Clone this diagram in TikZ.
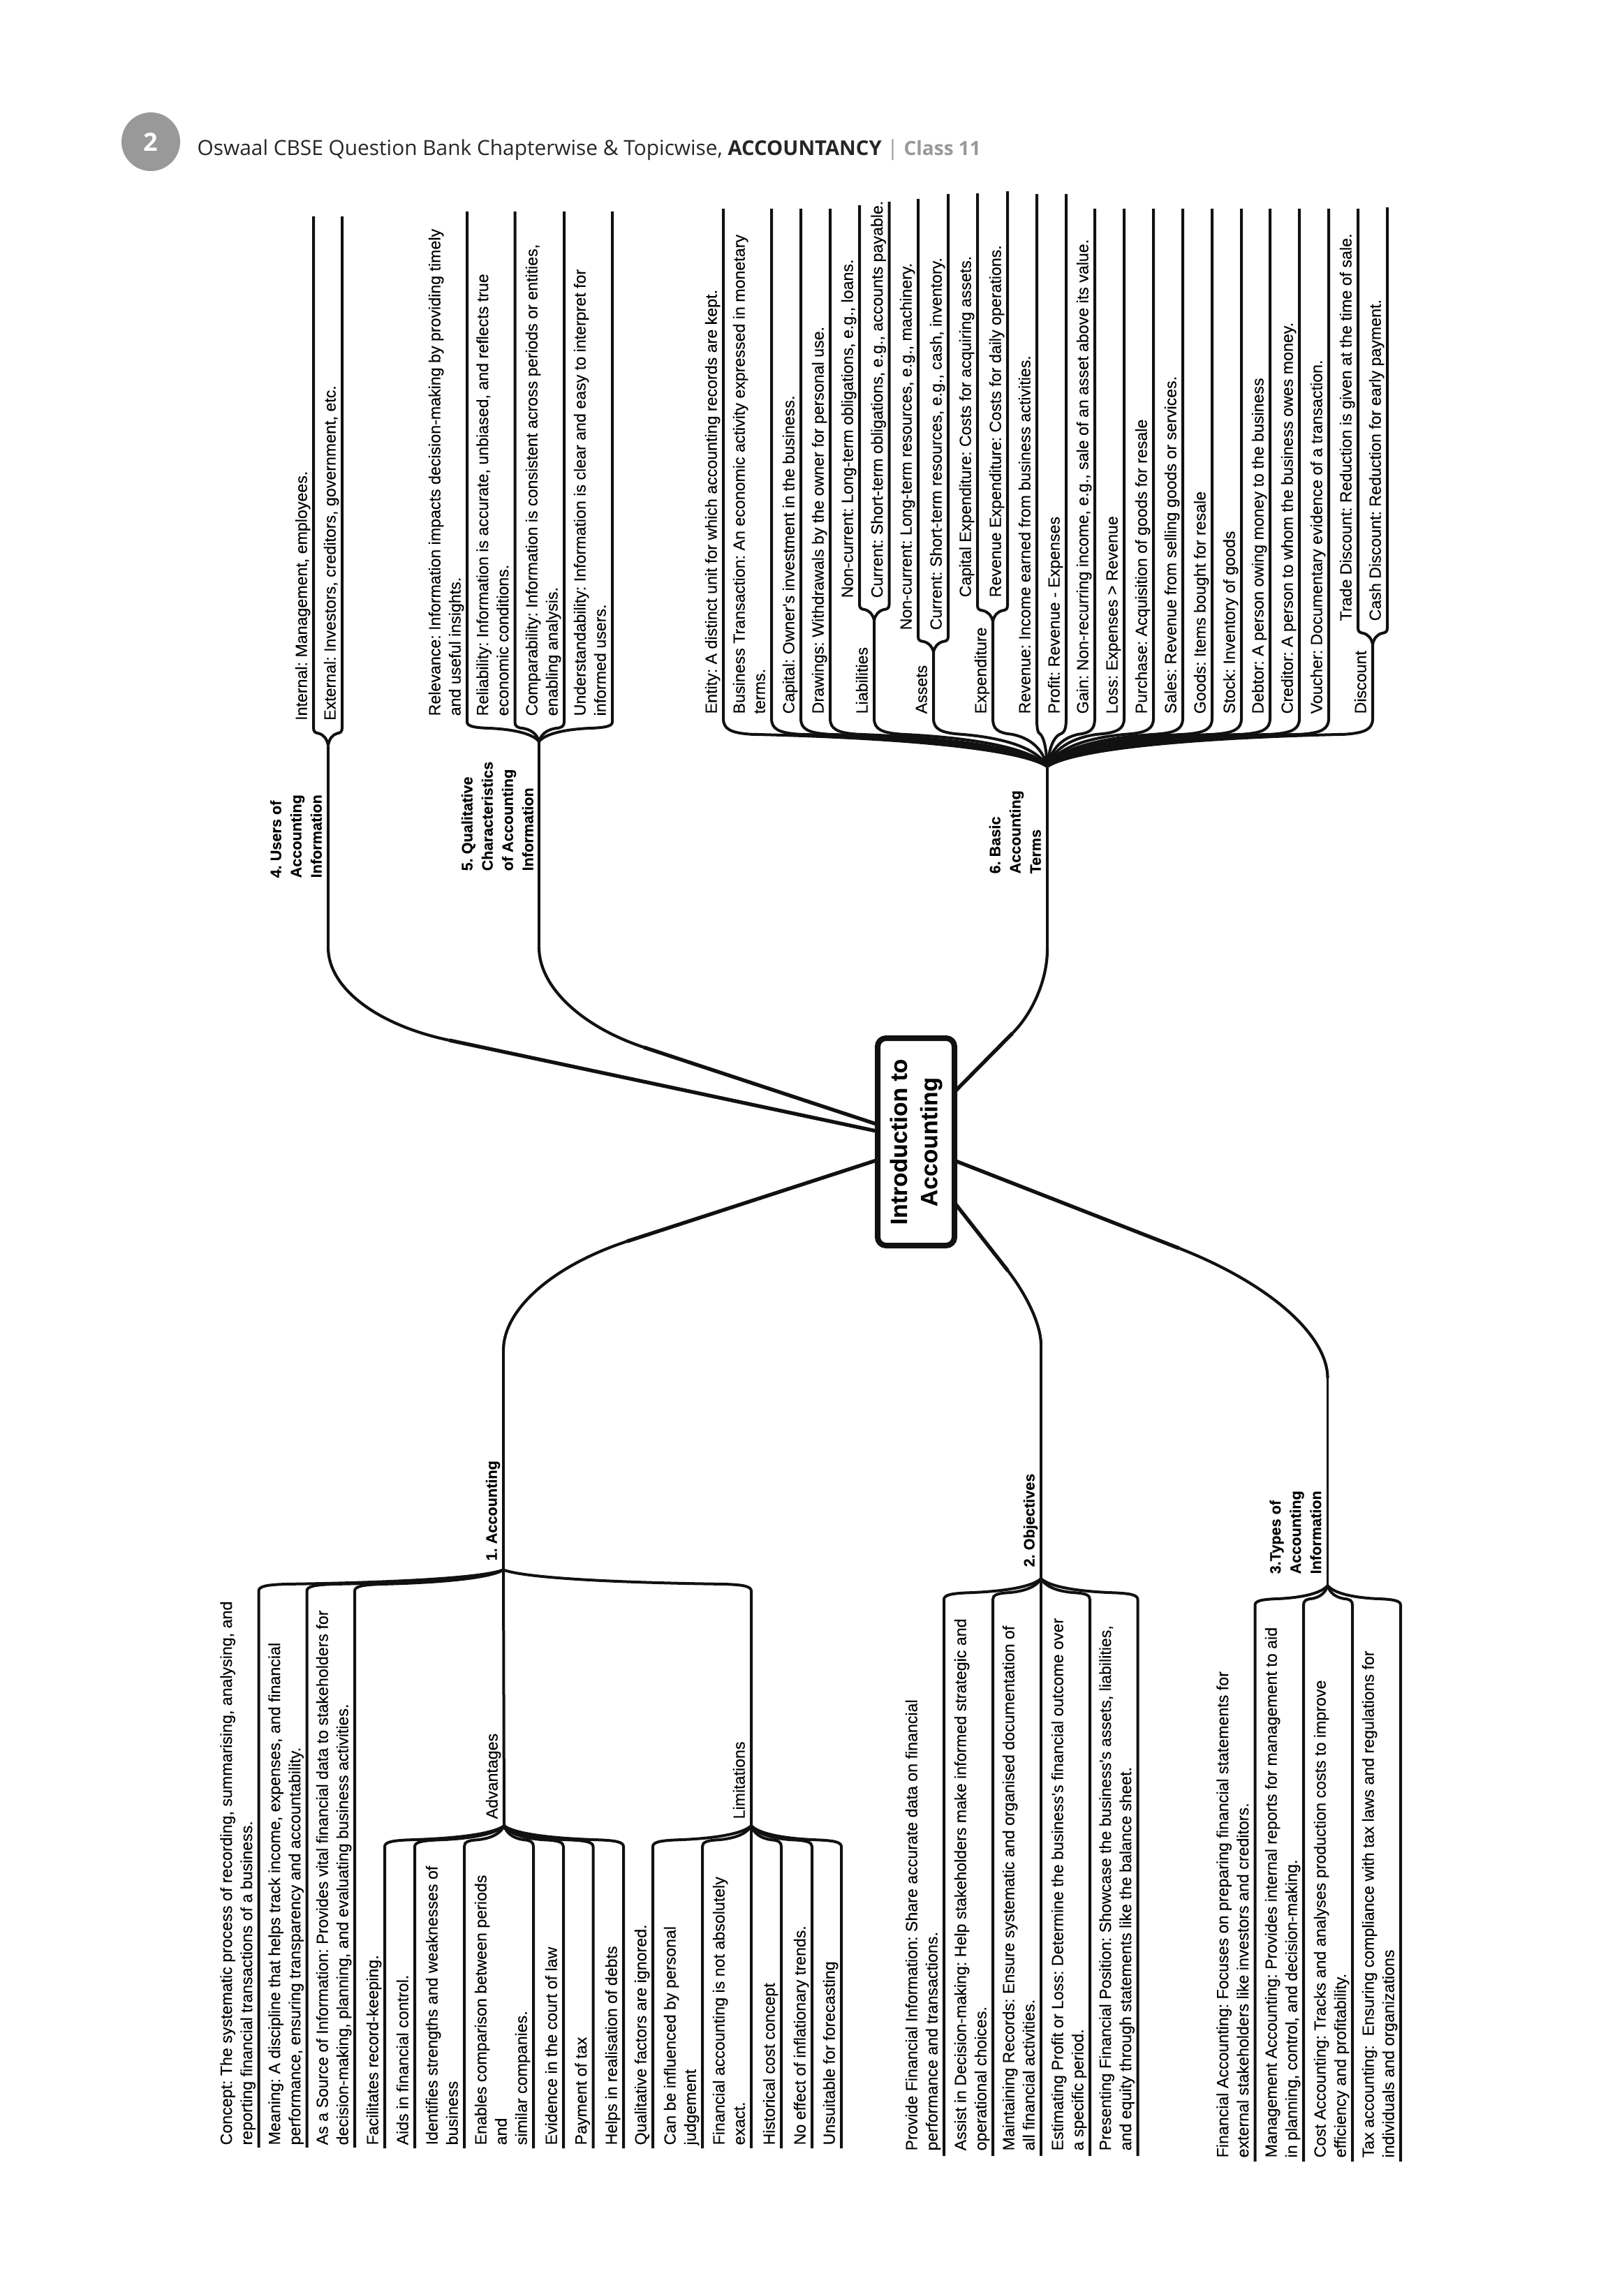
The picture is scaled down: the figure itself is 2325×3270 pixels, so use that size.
\documentclass[tikz,border=0pt]{standalone}
\usepackage{fontspec}
\setmainfont{Liberation Sans}
\newfontfamily\hdrfont{Open Sans}
\newfontfamily\leaffont{Liberation Sans}[FakeBold=0.12]
\newfontfamily\labfont{Liberation Sans Bold}[FakeBold=0.15]
\AtBeginDocument{\frenchspacing}
\definecolor{ink}{HTML}{111111}
\definecolor{pagegray}{HTML}{999999}
\tikzset{
  leaftxt/.style={rotate=90,anchor=south west,inner sep=0pt,align=left,font=\leaffont\fontsize{6.96pt}{8.7pt}\selectfont},
  headtxt/.style={rotate=90,anchor=south west,inner sep=0pt,align=left,font=\labfont\fontsize{6.5pt}{8.7pt}\selectfont},
  lnk/.style={line width=1.2pt,draw=ink},
  stemthin/.style={line width=1.05pt,draw=ink},
  stemmid/.style={line width=1.25pt,draw=ink},
  stemthick/.style={line width=1.6pt,draw=ink},
}
\newcommand\sethub[3]{\coordinate (#1) at (#2,#3);\def\myhn{#1}\def\myhx{#2}\def\myhy{#3}}
\newcommand\bendfrom[3]{%
  \pgfmathsetmacro\mydx{\myhx-#2}%
  \pgfmathsetmacro\mydy{\myhy-#3}%
  \pgfmathsetmacro\myrr{max(-40,min(40,0.35*\mydx))}%
  \pgfmathsetmacro\mycx{#2+\myrr}%
  \pgfmathsetmacro\mycy{#3+0.33*\mydy}%
  \pgfmathsetmacro\myax{#2+0.25*\myrr}%
  \pgfmathsetmacro\myay{#3+0.30*\mydy}%
  \pgfmathsetmacro\myby{#3+0.22*\mydy}%
  \pgfmathsetmacro\myqx{\mycx+0.55*(\myhx-\mycx)}%
  \pgfmathsetmacro\myqy{\mycy+0.08*\mydy}%
  \pgfmathsetmacro\mysx{\myhx-0.08*\mydx}%
  \pgfmathsetmacro\mysy{\myhy-0.35*\mydy}%
  \draw[lnk] (#1) -- (#2,#3) .. controls (#2,\myby) and (\myax,\myay) .. (\mycx,\mycy) .. controls (\myqx,\myqy) and (\mysx,\mysy) .. (\myhn);
}
% name, x, far y, corner y, text start y, text
\newcommand\leaf[6]{%
  \coordinate (#1far) at (#2,#3);
  \bendfrom{#1far}{#2}{#4}
  \node[leaftxt] (#1) at (#2,#5) {#6\strut};
}
% main connector: hub, stem end, ctrl1, ctrl2, straight start, box point
\newcommand\mainconn[6]{%
  \draw[stemthin] (#1) -- (#2);
  \draw[stemmid] (#2) .. controls (#3) and (#4) .. (#5);
  \draw[stemthick] (#5) -- (#6);
}
\begin{document}
\begin{tikzpicture}[x=0.3pt,y=-0.3pt]
\useasboundingbox (0,0) rectangle (2325,3270);
\fill[white] (0,0) rectangle (2325,3270);
% header
\node[circle,fill=pagegray,inner sep=0pt,minimum size=25.2pt,text=white,font=\hdrfont\fontsize{10.8pt}{12pt}\selectfont\bfseries] (pg) at (216,203) {2};
\node[anchor=base west,inner sep=0pt,font=\hdrfont\fontsize{8.95pt}{10pt}\selectfont,text=black!85] (hd) at (282,222.5) {Oswaal CBSE Question Bank Chapterwise \& Topicwise, {\fontsize{8.75pt}{10pt}\selectfont\textbf{ACCOUNTANCY}} {\color{pagegray}| {\fontsize{8.4pt}{10pt}\selectfont\textbf{Class 11}}}};

% connection points on the central box
\coordinate (bx4) at (1255,1620);
\coordinate (bx5) at (1255,1610);
\coordinate (bx1) at (1255,1662);
\coordinate (bx6) at (1369,1562);
\coordinate (bx3) at (1369,1663);
\coordinate (bx2) at (1369,1725);

% ---------- 4. Users
\sethub{h4}{470}{1067.5}
\mainconn{h4}{470,1357}{470,1415}{539.4,1468}{643.5,1490}{bx4}
\node[headtxt] (t4) at (470,1258) {4. Users of\\Accounting\\Information\strut};
\leaf{u1}{449}{310}{1042}{1032.5}{Internal: Management, employees.}
\leaf{u2}{490}{310}{1042}{1032.5}{External: Investors, creditors, government, etc.}

% ---------- 5. Qualitative
\sethub{h5}{772}{1062}
\mainconn{h5}{772,1357}{772,1413}{832,1470}{922,1500}{bx5}
\node[headtxt] (t5) at (773,1248) {5. Qualitative\\Characteristics\\of Accounting\\Information\strut};
\leaf{q1}{669}{303}{1034}{1026}{Relevance: Information impacts decision-making by providing timely\\and useful insights.}
\leaf{q2}{737.5}{303}{1034}{1026}{Reliability: Information is accurate, unbiased, and reflects true\\economic conditions.}
\leaf{q3}{808}{303}{1034}{1026}{Comparability: Information is consistent across periods or entities,\\enabling analysis.}
\leaf{q4}{877}{303}{1034}{1026}{Understandability: Information is clear and easy to interpret for\\informed users.}

% ---------- 6. Basic terms
\sethub{h6}{1500}{1098}
\mainconn{h6}{1500,1360}{1500,1402}{1480,1450}{1450,1480}{bx6}
\node[headtxt] (t6) at (1500,1252) {6. Basic\\Accounting\\Terms\strut};
\leaf{b1}{1036}{299}{1029}{1023}{Entity: A distinct unit for which accounting records are kept.}
\leaf{b2}{1105}{299}{1029}{1023}{Business Transaction: An economic activity expressed in monetary\\terms.}
\leaf{b3}{1147}{299}{1029}{1023}{Capital: Owner's investment in the business.}
\leaf{b4}{1189}{299}{1029}{1023}{Drawings: Withdrawals by the owner for personal use.}
\coordinate (hL) at (1252,888.5);
\bendfrom{hL}{1252}{1029}
\node[leaftxt] (lL) at (1252,1023) {Liabilities\strut};
\coordinate (hA) at (1337,934);
\bendfrom{hA}{1337}{1029}
\node[leaftxt] (lA) at (1337,1023) {Assets\strut};
\coordinate (hE) at (1422,890);
\bendfrom{hE}{1422}{1029}
\node[leaftxt] (lE) at (1422,1023) {Expenditure\strut};
\coordinate (hD) at (1966,923);
\bendfrom{hD}{1966}{1029}
\node[leaftxt] (lD) at (1966,1023) {Discount\strut};
\leaf{b5}{1485}{278}{1029}{1023}{Revenue: Income earned from business activities.}
\leaf{b6}{1527}{278}{1029}{1023}{Profit: Revenue - Expenses}
\leaf{b7}{1568}{299}{1029}{1023}{Gain: Non-recurring income, e.g., sale of an asset above its value.}
\leaf{b8}{1610}{299}{1029}{1023}{Loss: Expenses > Revenue}
\leaf{b9}{1652}{299}{1029}{1023}{Purchase: Acquisition of goods for resale}
\leaf{b10}{1694}{299}{1029}{1023}{Sales: Revenue from selling goods or services.}
\leaf{b11}{1736}{299}{1029}{1023}{Goods: Items bought for resale}
\leaf{b12}{1778}{299}{1029}{1023}{Stock: Inventory of goods}
\leaf{b13}{1819}{299}{1029}{1023}{Debtor: A person owing money to the business}
\leaf{b14}{1861}{299}{1029}{1023}{Creditor: A person to whom the business owes money.}
\leaf{b15}{1903}{299}{1029}{1023}{Voucher: Documentary evidence of a transaction.}
\sethub{hL}{1252}{888.5}
\leaf{l1}{1231}{294}{865.5}{857}{Non-current: Long-term obligations, e.g., loans.}
\leaf{l2}{1273.5}{289}{865.5}{857}{Current: Short-term obligations, e.g., accounts payable.}
\sethub{hA}{1337}{934}
\leaf{a1}{1315}{285}{911.5}{903}{Non-current: Long-term resources, e.g., machinery.}
\leaf{a2}{1358}{278}{911.5}{903}{Current: Short-term resources, e.g., cash, inventory.}
\sethub{hE}{1422}{890}
\leaf{e1}{1400}{277}{867}{856}{Capital Expenditure: Costs for acquiring assets.}
\leaf{e2}{1443}{274}{867}{856}{Revenue Expenditure: Costs for daily operations.}
\sethub{hD}{1966}{923}
\leaf{d1}{1945}{299}{899}{890}{Trade Discount: Reduction is given at the time of sale.}
\leaf{d2}{1987}{297}{899}{890}{Cash Discount: Reduction for early payment.}

% ---------- 1. Accounting
\sethub{h1}{721}{2248.5}
\mainconn{h1}{721,1934}{721,1875}{792,1813}{898,1778}{bx1}
\node[headtxt] (t1) at (721,2236) {1. Accounting\strut};
\coordinate (hAdv) at (722,2615);
\coordinate (hLim) at (1076,2615);
\draw[lnk] (h1) -- (hAdv);
\bendfrom{hLim}{1076}{2279}
\node[leaftxt] (lAdv) at (722,2606) {Advantages\strut};
\node[leaftxt] (lLim) at (1076,2606) {Limitations\strut};
\leaf{c1}{370.5}{3076}{2279}{3073}{Concept: The systematic process of recording, summarising, analysing, and\\reporting financial transactions of a business.}
\leaf{c2}{439.5}{3076}{2279}{3073}{Meaning: A discipline that helps track income, expenses, and financial\\performance, ensuring transparency and accountability.}
\leaf{c3}{508}{3076}{2279}{3073}{As a Source of Information: Provides vital financial data to stakeholders for\\decision-making, planning, and evaluating business activities.}
\sethub{hAdv}{722}{2615}
\leaf{v1}{551}{3077}{2645}{3073}{Facilitates record-keeping.}
\leaf{v2}{594}{3077}{2645}{3073}{Aids in financial control.}
\leaf{v3}{665}{3077}{2645}{3073}{Identifies strengths and weaknesses of\\business}
\leaf{v4}{764}{3077}{2645}{3073}{Enables comparison between periods\\and\\similar companies.}
\leaf{v5}{807}{3077}{2645}{3073}{Evidence in the court of law}
\leaf{v6}{849.5}{3077}{2645}{3073}{Payment of tax}
\leaf{v7}{893}{3077}{2645}{3073}{Helps in realisation of debts}
\sethub{hLim}{1076}{2615}
\leaf{m1}{935}{3077}{2645}{3073}{Qualitative factors are ignored.}
\leaf{m2}{1006}{3077}{2645}{3073}{Can be influenced by personal\\judgement}
\leaf{m3}{1076}{3077}{2645}{3073}{Financial accounting is not absolutely\\exact.}
\leaf{m4}{1119}{3077}{2645}{3073}{Historical cost concept}
\leaf{m5}{1163}{3077}{2645}{3073}{No effect of inflationary trends.}
\leaf{m6}{1205}{3077}{2645}{3073}{Unsuitable for forecasting}

% ---------- 2. Objectives
\sethub{h2}{1491}{2261}
\mainconn{h2}{1491,1926}{1491,1899}{1472,1857}{1443.5,1820}{bx2}
\node[headtxt] (t2) at (1491,2245) {2. Objectives\strut};
\leaf{o1}{1352}{3088}{2291}{3081}{Provide Financial Information: Share accurate data on financial\\performance and transactions.}
\leaf{o2}{1422}{3088}{2291}{3081}{Assist in Decision-making: Help stakeholders make informed strategic and\\operational choices.}
\leaf{o3}{1491}{3088}{2291}{3081}{Maintaining Records: Ensure systematic and organised documentation of\\all financial activities.}
\leaf{o4}{1561}{3088}{2291}{3081}{Estimating Profit or Loss: Determine the business's financial outcome over\\a specific period.}
\leaf{o5}{1629.5}{3088}{2291}{3081}{Presenting Financial Position: Showcase the business's assets, liabilities,\\and equity through statements like the balance sheet.}

% ---------- 3. Types
\sethub{h3}{1901.5}{2271}
\mainconn{h3}{1901.5,1974}{1901.5,1912}{1817,1838}{1689,1788}{bx3}
\node[headtxt] (t3) at (1901.5,2255) {3.Types of\\Accounting\\Information\strut};
\leaf{y1}{1797.5}{3096}{2299}{3091}{Financial Accounting: Focuses on preparing financial statements for\\external stakeholders like investors and creditors.}
\leaf{y2}{1867}{3096}{2299}{3091}{Management Accounting: Provides internal reports for management to aid\\in planning, control, and decision-making.}
\leaf{y3}{1937}{3096}{2299}{3091}{Cost Accounting: Tracks and analyses production costs to improve\\efficiency and profitability.}
\leaf{y4}{2006}{3096}{2299}{3091}{Tax accounting:\ \ Ensuring compliance with tax laws and regulations for\\individuals and organizations}

% central box
\node[draw=ink,fill=white,line width=2.4pt,rounded corners=3.6pt,rotate=90,minimum width=89.1pt,minimum height=33pt,inner sep=0pt,align=center,font=\labfont\fontsize{10.1pt}{13pt}\selectfont] (box) at (1312,1635.5) {Introduction to\\Accounting};
\end{tikzpicture}
\end{document}
